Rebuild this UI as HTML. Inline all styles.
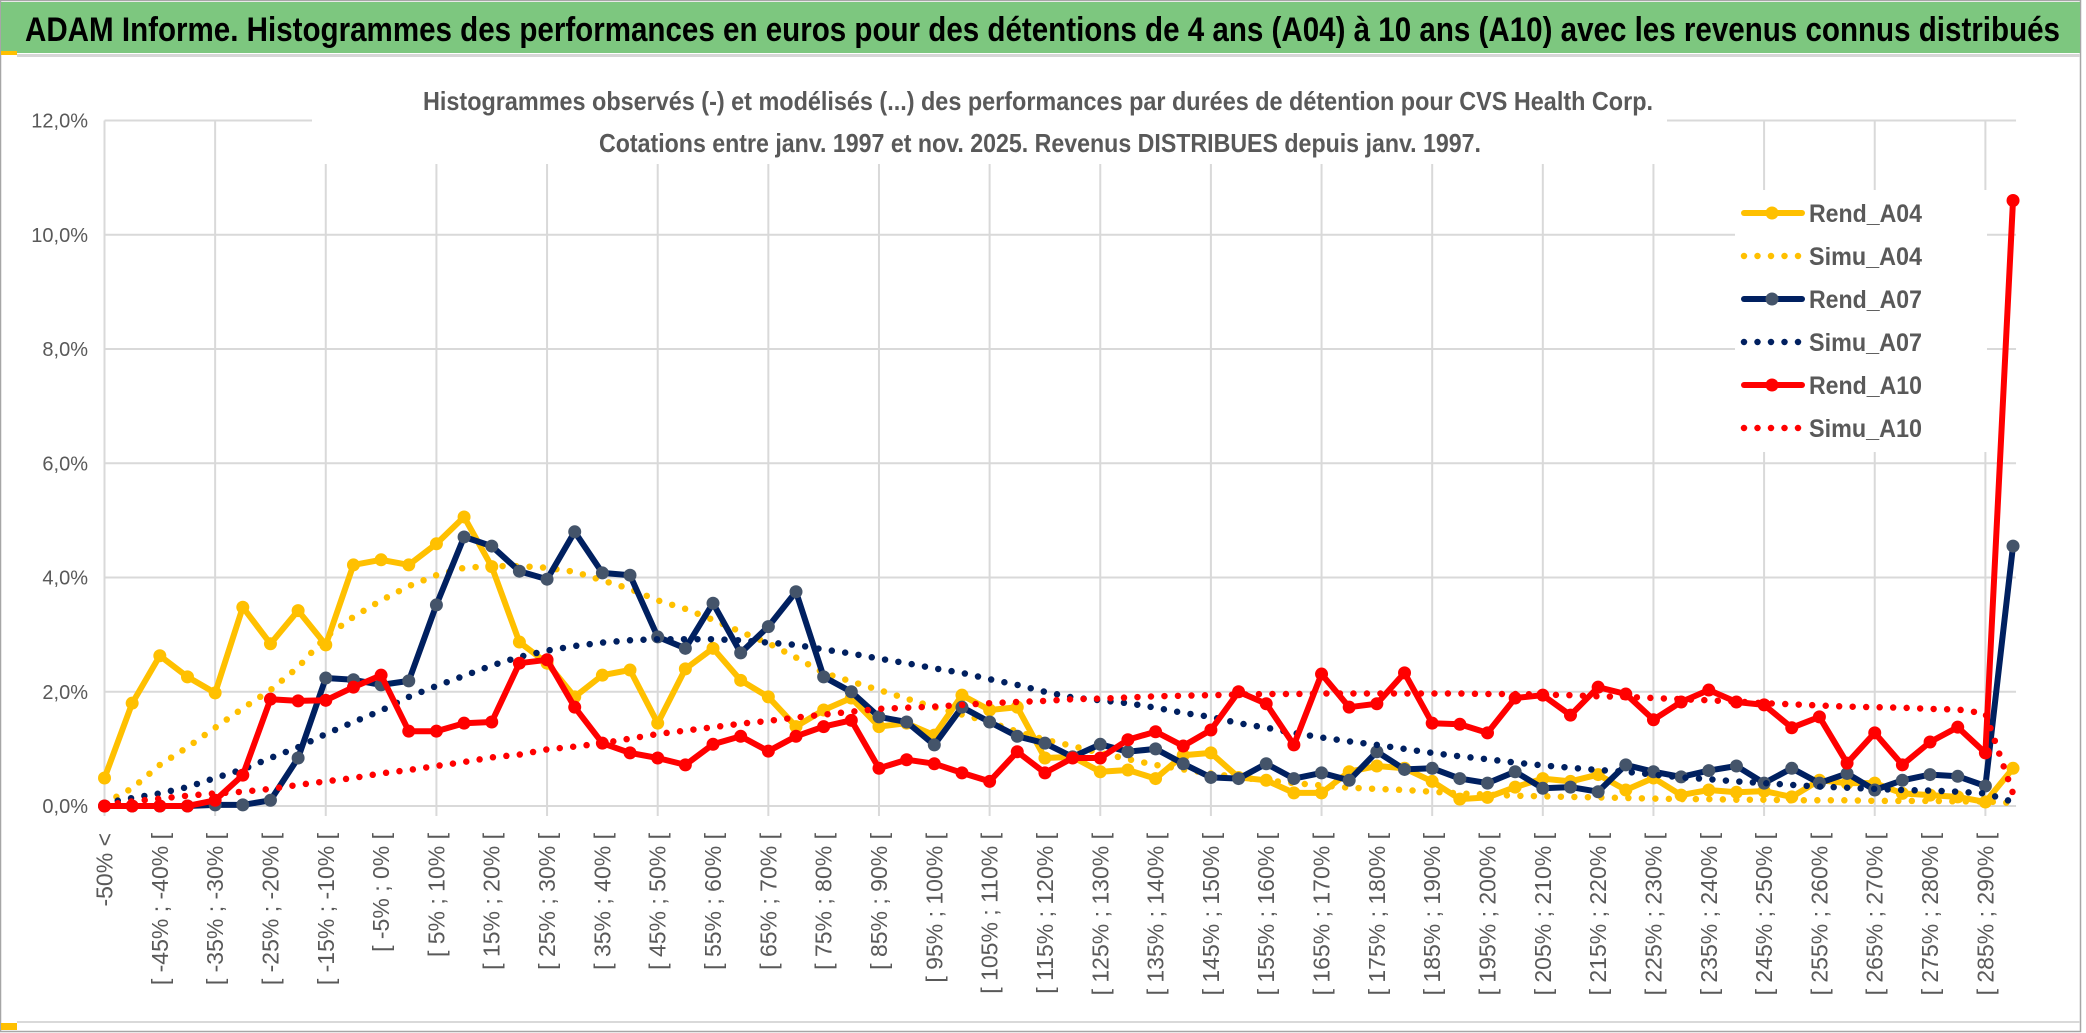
<!DOCTYPE html>
<html><head><meta charset="utf-8">
<style>
html,body{margin:0;padding:0;background:#fff;}
svg{display:block;font-family:"Liberation Sans",sans-serif;}
</style></head>
<body>
<svg id="chart" xmlns="http://www.w3.org/2000/svg" width="2086" height="1033" viewBox="0 0 2086 1033">
  <rect x="0" y="0" width="2086" height="1033" fill="#fff"/>
  <rect x="0.5" y="0.5" width="2080" height="1031" fill="none" stroke="#a6a6a6" stroke-width="1.5"/>
  <rect x="1" y="2" width="2079" height="51" fill="#7dc77f"/>
  <rect x="1" y="51" width="16" height="4" fill="#ffc000"/>
  <rect x="17" y="54" width="2063" height="3" fill="#d6d6d6"/>
  <text x="25" y="41" font-size="34" font-weight="bold" fill="#000" textLength="2035" lengthAdjust="spacingAndGlyphs">ADAM Informe. Histogrammes des performances en euros pour des détentions de 4 ans (A04) à 10 ans (A10) avec les revenus connus distribués</text>
  <rect x="1" y="1023" width="16" height="7" fill="#ffc000"/>
  <rect x="17" y="1021" width="2063" height="2" fill="#d9d9d9"/>
  <g id="grid"></g>
  <rect x="312" y="80" width="1355" height="84" fill="#fff"/>
  <text x="1038" y="110" font-size="26" font-weight="bold" fill="#595959" text-anchor="middle" textLength="1230" lengthAdjust="spacingAndGlyphs">Histogrammes observés (-) et modélisés (...) des performances par durées de détention pour CVS Health Corp.</text>
  <text x="1040" y="152" font-size="26" font-weight="bold" fill="#595959" text-anchor="middle" textLength="882" lengthAdjust="spacingAndGlyphs">Cotations entre janv. 1997 et nov. 2025. Revenus DISTRIBUES depuis janv. 1997.</text>
  <g id="yaxis"></g>
  <g id="xaxis"></g>
  <g id="series"></g>
  <g id="legend"></g>
</svg>
<script>
const yTicks = [0, 2, 4, 6, 8, 10, 12];
const yTickLabels = ["0,0%", "2,0%", "4,0%", "6,0%", "8,0%", "10,0%", "12,0%"];
const categories = ["-50% <"];
for (let k = 1; k <= 68; k++) categories.push("[ " + (-55 + 5 * k) + "% ; " + (-50 + 5 * k) + "% [");
categories.push("290% <=");
const rendA04 = [0.49,1.8,2.63,2.26,1.98,3.48,2.84,3.42,2.82,4.22,4.31,4.22,4.59,5.06,4.19,2.87,2.5,1.91,2.29,2.38,1.45,2.4,2.76,2.2,1.91,1.39,1.68,1.89,1.39,1.45,1.24,1.94,1.68,1.73,0.84,0.86,0.6,0.63,0.48,0.89,0.93,0.5,0.45,0.23,0.23,0.6,0.7,0.66,0.43,0.12,0.15,0.33,0.48,0.43,0.55,0.28,0.49,0.19,0.28,0.24,0.26,0.16,0.45,0.4,0.4,0.22,0.19,0.16,0.07,0.66];
const simuA04 = [0.05,0.31,0.72,1.03,1.37,1.71,2.03,2.43,2.96,3.31,3.6,3.85,4.04,4.17,4.2,4.2,4.17,4.1,3.95,3.8,3.6,3.45,3.26,3.05,2.85,2.6,2.33,2.18,2.03,1.88,1.73,1.6,1.47,1.3,1.16,1.05,0.93,0.82,0.72,0.64,0.57,0.5,0.45,0.4,0.36,0.32,0.3,0.28,0.25,0.22,0.2,0.18,0.17,0.16,0.15,0.14,0.13,0.12,0.12,0.11,0.11,0.1,0.1,0.1,0.09,0.09,0.09,0.08,0.08,0.05];
const rendA07 = [0,0,0,0,0.02,0.02,0.1,0.84,2.24,2.21,2.12,2.19,3.52,4.71,4.55,4.11,3.97,4.8,4.08,4.04,2.96,2.76,3.55,2.68,3.14,3.75,2.26,2.0,1.56,1.47,1.07,1.73,1.47,1.22,1.1,0.86,1.08,0.95,1.0,0.74,0.5,0.48,0.74,0.48,0.58,0.45,0.95,0.64,0.66,0.48,0.4,0.6,0.31,0.33,0.25,0.72,0.6,0.51,0.62,0.7,0.4,0.66,0.4,0.57,0.28,0.45,0.55,0.52,0.35,4.55];
const simuA07 = [0.05,0.14,0.22,0.33,0.49,0.64,0.84,1.03,1.26,1.47,1.67,1.91,2.1,2.28,2.46,2.61,2.72,2.8,2.86,2.9,2.92,2.92,2.92,2.9,2.86,2.82,2.74,2.67,2.58,2.5,2.41,2.33,2.22,2.12,2.0,1.9,1.85,1.8,1.72,1.63,1.56,1.45,1.37,1.28,1.2,1.13,1.07,1.0,0.93,0.87,0.82,0.76,0.71,0.67,0.63,0.6,0.55,0.5,0.47,0.43,0.4,0.37,0.34,0.32,0.3,0.28,0.27,0.25,0.22,0.07];
const rendA10 = [0,0,0,0,0.1,0.54,1.87,1.84,1.85,2.08,2.29,1.31,1.31,1.45,1.47,2.5,2.56,1.73,1.1,0.93,0.84,0.72,1.08,1.22,0.96,1.22,1.39,1.5,0.66,0.81,0.74,0.58,0.43,0.95,0.58,0.84,0.84,1.16,1.3,1.05,1.33,2.0,1.79,1.07,2.31,1.73,1.79,2.33,1.45,1.43,1.28,1.89,1.94,1.59,2.08,1.96,1.51,1.82,2.03,1.82,1.77,1.37,1.56,0.75,1.28,0.72,1.12,1.38,0.93,10.6];
const simuA10 = [0.02,0.08,0.13,0.18,0.22,0.25,0.3,0.37,0.43,0.49,0.57,0.63,0.7,0.77,0.85,0.9,0.99,1.04,1.1,1.18,1.26,1.32,1.38,1.44,1.49,1.55,1.6,1.65,1.7,1.72,1.74,1.77,1.8,1.82,1.84,1.87,1.88,1.9,1.92,1.93,1.94,1.95,1.96,1.96,1.97,1.97,1.97,1.97,1.97,1.97,1.96,1.96,1.95,1.94,1.92,1.91,1.89,1.87,1.85,1.83,1.8,1.78,1.76,1.74,1.73,1.72,1.7,1.69,1.62,0.22];
const seriesNames = ["Rend_A04", "Simu_A04", "Rend_A07", "Simu_A07", "Rend_A10", "Simu_A10"];

const NS = "http://www.w3.org/2000/svg";
const X0 = 104.5, STEP = 27.66, Y0 = 806, YTOP = 120.5, YMAX = 12;
function xPos(i) { return X0 + i * STEP; }
function yPos(v) { return Y0 - (v / YMAX) * (Y0 - YTOP); }
function mk(tag, attrs, parent) {
  const e = document.createElementNS(NS, tag);
  for (const k in attrs) e.setAttribute(k, attrs[k]);
  parent.appendChild(e);
  return e;
}
const grid = document.getElementById("grid");
const yaxis = document.getElementById("yaxis");
const xaxis = document.getElementById("xaxis");
const ser = document.getElementById("series");
const leg = document.getElementById("legend");
const XEND = xPos(categories.length - 1) + 3;

yTicks.forEach((t, k) => {
  const l = mk("line", {x1: X0, x2: XEND, y1: yPos(t), y2: yPos(t), stroke: "#d9d9d9", "stroke-width": 2}, grid);
  
  
  const tx = mk("text", {x: 88, y: yPos(t) + 7, "font-size": 20, fill: "#595959", "text-anchor": "end"}, yaxis);
  tx.textContent = yTickLabels[k];
  
  
});
for (let i = 0; i < categories.length; i += 4) {
  const l = mk("line", {x1: xPos(i), x2: xPos(i), y1: YTOP, y2: Y0 + 10, stroke: "#d9d9d9", "stroke-width": 2}, grid);
  
  
}
for (let i = 0; i < categories.length; i += 2) {
  const x = xPos(i) + 8, y = 833;
  const tx = mk("text", {x: x, y: y, "font-size": 23, fill: "#595959", "text-anchor": "end", transform: "rotate(-90 " + x + " " + y + ")"}, xaxis);
  tx.textContent = categories[i];
  
  
}

const styles = [
  {data: rendA04, color: "#ffc000", marker: "#ffc000", dotted: false},
  {data: simuA04, color: "#ffc000", dotted: true},
  {data: rendA07, color: "#002060", marker: "#44546a", dotted: false},
  {data: simuA07, color: "#002060", dotted: true},
  {data: rendA10, color: "#ff0000", marker: "#ff0000", dotted: false},
  {data: simuA10, color: "#ff0000", dotted: true}
];
styles.forEach((s, si) => {
  const pts = s.data.map((v, i) => xPos(i).toFixed(1) + "," + yPos(v).toFixed(1)).join(" ");
  const g = mk("g", {}, ser);
  
  
  const pl = mk("polyline", {points: pts, fill: "none", stroke: s.color, "stroke-linejoin": "round", "stroke-linecap": "round",
    "stroke-width": s.dotted ? 6.5 : 6, "stroke-dasharray": s.dotted ? "0 13.5" : "none"}, g);
  
  
  if (!s.dotted) {
    s.data.forEach((v, i) => {
      const c = mk("circle", {cx: xPos(i), cy: yPos(v), r: 6.5, fill: s.marker}, g);
      
      
    });
  }
});

const lb = mk("rect", {x: 1735, y: 190, width: 252, height: 262, fill: "#fff"}, leg);


styles.forEach((s, si) => {
  const cy = 213 + si * 43;
  const g = mk("g", {}, leg);
  
  
  mk("line", {x1: 1744, x2: 1802, y1: cy, y2: cy, stroke: s.color, "stroke-width": s.dotted ? 6.5 : 6, "stroke-linecap": "round", "stroke-dasharray": s.dotted ? "0 13.5" : "none"}, g);
  if (!s.dotted) mk("circle", {cx: 1772, cy: cy, r: 6.5, fill: s.marker}, g);
  const t = mk("text", {x: 1809, y: cy + 9, "font-size": 25, "font-weight": "bold", fill: "#595959", textLength: 113, lengthAdjust: "spacingAndGlyphs"}, g);
  t.textContent = seriesNames[si];
  
  
});
</script>
</body></html>
